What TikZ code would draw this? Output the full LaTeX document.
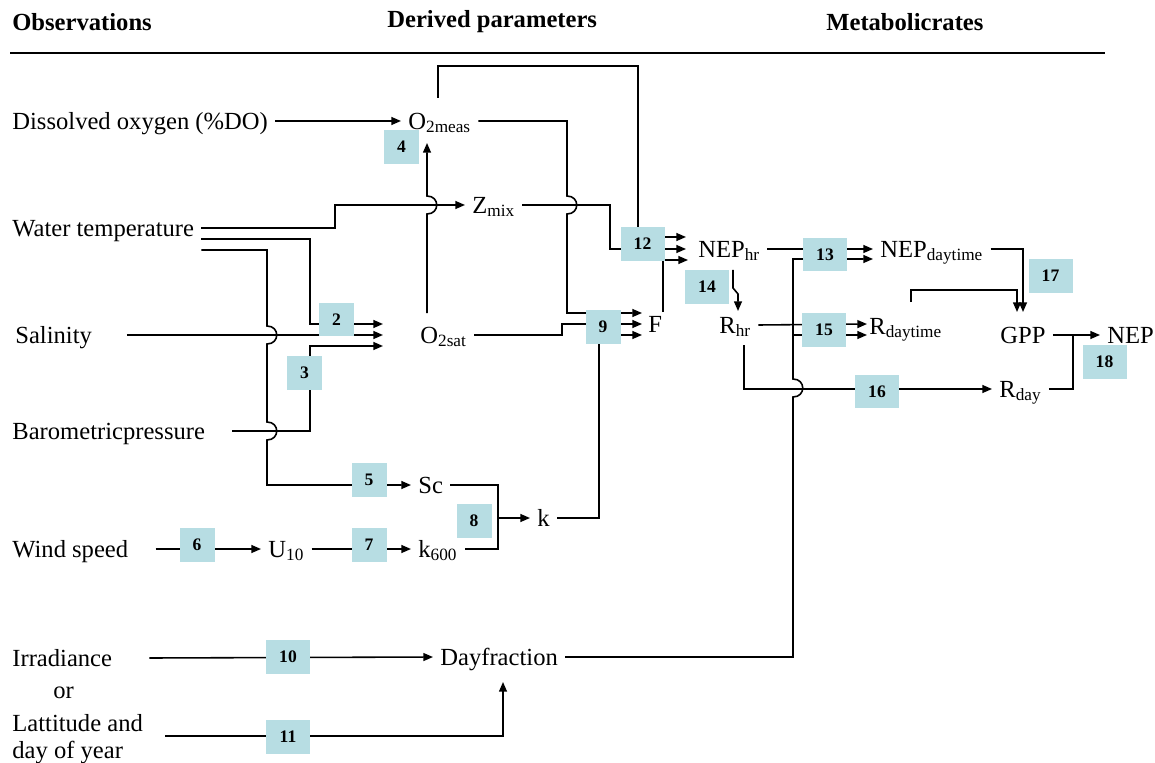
\documentclass[tikz,border=0pt]{standalone}
\usepackage{fontspec}
\setmainfont{Liberation Serif}
\usetikzlibrary{arrows.meta,calc}
\definecolor{stepblue}{RGB}{183,221,227}

\begin{document}
\begin{tikzpicture}[
    x=0.02cm, y=-0.02cm,
    font=\fontsize{14}{16}\selectfont,
    >={Triangle[length=5.5pt,width=4.5pt]},
    lbl/.style={anchor=west, inner xsep=4pt, inner ysep=1pt, text height=9.3pt, text depth=0pt},
    head/.style={anchor=west, inner sep=0pt, font=\fontsize{14}{16}\selectfont\bfseries},
    wire/.style={line width=0.9pt},
    num/.style={fill=stepblue, minimum width=0.70cm, minimum height=0.68cm, inner sep=0pt,
                font=\fontsize{10}{12}\selectfont\bfseries},
    numw/.style={num, minimum width=0.88cm}
]
\useasboundingbox (0,0) rectangle (1155,763);

% =========================================================================
% 1. HEADINGS
% =========================================================================
\node[head] (hobs) at (12,22)  {Observations};
\node[head] (hder) at (387,22) {Derived parameters};
\node[head] (hmet) at (826,22) {Metabolicrates};
\draw[wire] (10,53) -- (1105,53);

% =========================================================================
% 2. LABELS
% =========================================================================
% Observations
\node[lbl] (do)  at (5,121) {Dissolved oxygen (\%DO)};
\node[lbl] (wt)  at (5,228) {Water temperature};
\node[lbl] (sal) at (8,335) {Salinity};
\node[lbl] (bp)  at (5,431) {Barometricpressure};
\node[lbl] (ws)  at (5,549) {Wind speed};
\node[lbl] (irr) at (5,658) {Irradiance};
\node[lbl] (orr) at (46,690) {or};
\node[lbl] (lat) at (5,723) {Lattitude and};
\node[lbl] (doy) at (5,750) {day of year};

% Derived parameters
\node[lbl] (o2meas) at (401,121) {O\textsubscript{2meas}};
\node[lbl] (zmix)   at (465,205) {Z\textsubscript{mix}};
\node[lbl] (o2sat)  at (413,335) {O\textsubscript{2sat}};
\node[lbl] (sc)     at (411,485) {Sc};
\node[lbl] (u10)    at (261,549) {U\textsubscript{10}};
\node[lbl] (k600)   at (411,549) {k\textsubscript{600}};
\node[lbl] (k)      at (530,518) {k};
\node[lbl] (f)      at (641,324) {F};
\node[lbl] (dayfr)  at (433,657) {Dayfraction};

% Metabolic rates
\node[lbl] (nephr) at (691,249)  {NEP\textsubscript{hr}};
\node[lbl] (rhr)   at (712,325)  {R\textsubscript{hr}};
\node[lbl] (nepdt) at (873,249)  {NEP\textsubscript{daytime}};
\node[lbl] (rdt)   at (862,326)  {R\textsubscript{daytime}};
\node[lbl] (gpp)   at (993,335)  {GPP};
\node[lbl] (rday)  at (992,389)  {R\textsubscript{day}};
\node[lbl] (nep)   at (1100,335) {NEP};

% =========================================================================
% 3. WIRES
% =========================================================================
% Observations -> derived parameters
\draw[wire,->] (do.east) -- (o2meas.west);
\draw[wire,->] (wt.east) -- (335,228) |- (zmix.west);
\draw[wire,->] (wt.east |- 0,239) -| (310,324) -- (383,324);
\draw[wire,->] ([xshift=0.55cm]sal.east) -- (383,335);
\draw[wire,->] ([xshift=0.4cm]bp.east) -| (310,346) -- (383,346);
\draw[wire,->] (wt.east |- 0,250) -| (267,326)
    .. controls +(13,0) and +(13,0) .. (267,344) -- (267,422)
    .. controls +(13,0) and +(13,0) .. (267,440) |- (sc.west);
\draw[wire,->] ([xshift=0.4cm]ws.east) -- (u10.west);
\draw[wire,->] ([xshift=0.6cm]irr.east) -- (dayfr.west);
\draw[wire,->] ([xshift=0.3cm]lat.east |- 0,736) -| (503,682);

% Derived parameters
\draw[wire,->] (u10.east) -- (k600.west);
\draw[wire] (sc.east) -| (498,549) -- (k600.east);
\draw[wire,->] (498,518) -- (k.west);
\draw[wire,->] (427,313) -- (427,214)
    .. controls +(13,0) and +(13,0) .. (427,196) -- (427,143);
\draw[wire,->] (438,98) |- (638,66) -- (638,237) -- (686,237);
\draw[wire,->] (o2meas.east) -| (567,196)
    .. controls +(13,0) and +(13,0) .. (567,214) |- (642,313);
\draw[wire,->] (zmix.east) -| (610,249) -- (686,249);
\draw[wire,->] (663,312) |- (688,260);
\draw[wire,->] (o2sat.east) -- (562,335) |- (642,324);
\draw[wire,->] (k.east) -| (599,335) -- (642,335);

% Metabolic rates
\draw[wire,->] (dayfr.east) -| (793,397)
    .. controls +(13,0) and +(13,0) .. (793,379) |- (nepdt.west |- 0,259);
\draw[wire,->] (793,335) -- (867,335);
\draw[wire,->] (nephr.east) -- (nepdt.west);
\draw[wire,->] (733,270) -- (733,288) -- (738,294) -- (738,311);
\draw[wire,->] (rhr.east) -- (867,324);
\draw[wire,->] (744,345) |- (rday.west);
\draw[wire,->] (nepdt.east) -| (1023,312);
\draw[wire,->] (911,302) |- (1017,290) -- (1017,312);
\draw[wire,->] (gpp.east) -- (nep.west);
\draw[wire] (rday.east) -| (1073,335);

% =========================================================================
% 4. STEP NUMBERS
% =========================================================================
\node[num]  (b2)  at (336.5,319.5) {2};
\node[num]  (b3)  at (304.5,373)   {3};
\node[num]  (b4)  at (401.5,147)   {4};
\node[num]  (b5)  at (369,480)     {5};
\node[num]  (b6)  at (197,544.5)   {6};
\node[num]  (b7)  at (369,545)     {7};
\node[num]  (b8)  at (474,520.5)   {8};
\node[num]  (b9)  at (603,327)     {9};
\node[numw] (b10) at (288,657)     {10};
\node[numw] (b11) at (288,737)     {11};
\node[numw] (b12) at (642.5,244)   {12};
\node[numw] (b13) at (825,254.5)   {13};
\node[numw] (b14) at (707,287)     {14};
\node[numw] (b15) at (824,330)     {15};
\node[numw] (b16) at (877,391.5)   {16};
\node[numw] (b17) at (1050.5,276)  {17};
\node[numw] (b18) at (1104.5,362)  {18};

\end{tikzpicture}
\end{document}
